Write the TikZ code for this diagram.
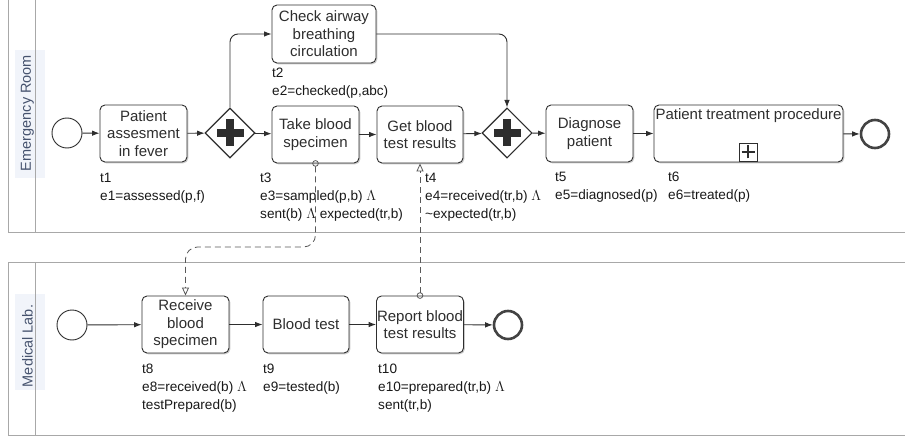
\documentclass[tikz,border=0pt]{standalone}
\usepackage{fontspec}
\setmainfont{Liberation Sans}
\usetikzlibrary{arrows.meta,shapes.geometric,shadows}
\definecolor{ln}{HTML}{2E2E2E}
\definecolor{lanec}{HTML}{A8A8A8}
\definecolor{lanetxt}{HTML}{46536E}
\definecolor{tint}{HTML}{F1F4FA}
\tikzset{
  task/.style={draw=ln, line width=0.9pt, rounded corners=5pt, fill=white,
    align=center, inner sep=0pt, minimum width=87pt, minimum height=57pt,
    font=\fontsize{15}{17.5}\selectfont, text=ln,
    drop shadow={shadow xshift=1.3pt, shadow yshift=-1.3pt, fill=black!45, opacity=0.45}},
  gate/.style={diamond, draw=ln, line width=1.1pt, fill=white, minimum width=50pt,
    minimum height=50pt, inner sep=0pt},
  startev/.style={circle, draw=ln, line width=0.9pt, fill=white, minimum size=30pt, inner sep=0pt},
  endev/.style={circle, draw=ln!90, line width=2.6pt, fill=white, minimum size=28pt, inner sep=0pt},
  flow/.style={draw=ln, line width=0.9pt, -{Latex[length=7.5pt,width=5.5pt]}, rounded corners=8pt},
  msg/.style={draw=black!65, line width=0.8pt, dash pattern=on 6pt off 4pt, rounded corners=12pt,
    {Circle[open,length=6.5pt,width=6.5pt,line width=0.8pt]}-{Triangle[open,length=8pt,width=7pt,line width=0.8pt]}},
  lbl/.style={anchor=north west, inner sep=0pt, align=left, font=\fontsize{13.6}{18}\selectfont, text=black!90},
  lanebox/.style={draw=lanec, line width=0.9pt},
  lanename/.style={rotate=90, font=\fontsize{14.5}{17}\selectfont, text=lanetxt, inner sep=0pt},
}
\newcommand{\gplus}[1]{%
  \fill[ln] ([xshift=-13.5pt,yshift=-4pt]#1.center) rectangle ([xshift=13.5pt,yshift=4pt]#1.center);
  \fill[ln] ([xshift=-4pt,yshift=-13.5pt]#1.center) rectangle ([xshift=4pt,yshift=13.5pt]#1.center);}
\begin{document}
\begin{tikzpicture}[x=1pt,y=-1pt]
\useasboundingbox (0,0) rectangle (905,441);
\clip (0,0) rectangle (905,441);
\fill[white] (0,0) rectangle (905,441);
% lanes
\fill[tint] (15,50) rectangle (45,178);
\fill[tint] (15,294) rectangle (45,390);
\draw[lanebox] (8,-10) rectangle (920,232);
\draw[lanebox] (35,-10) -- (35,232);
\draw[lanebox] (8,262) rectangle (920,435);
\draw[lanebox] (35,262) -- (35,435);
\node[lanename] (erlab) at (27.5,113) {Emergency Room};
\node[lanename] (mllab) at (27.5,346) {Medical Lab.};

% Emergency room nodes
\node[startev] (s1) at (67,133) {};
\node[task] (t1) at (143.5,133.5) {Patient\\assesment\\in fever};
\node[gate] (g1) at (230,133) {};
\node[task, minimum width=104pt, minimum height=58pt] (t2) at (324,34) {Check airway\\breathing\\circulation};
\node[task] (t3) at (315.5,134.5) {Take blood\\specimen};
\node[task, minimum width=86pt] (t4) at (420,134.5) {Get blood\\test results};
\node[gate] (g2) at (507,133) {};
\node[task] (t5) at (589.5,133.5) {Diagnose\\patient};
\node[task, minimum width=189pt] (t6) at (748.5,133.5) {};
\node[anchor=north, inner sep=0pt, font=\fontsize{15}{17.5}\selectfont, text=ln] (t6txt) at ([yshift=-4pt]t6.north) {Patient treatment procedure};
\node[endev] (e1) at (875,134) {};
\gplus{g1}
\gplus{g2}
% sub-process marker
\node[draw=ln, line width=0.9pt, minimum size=18pt, inner sep=0pt] (mk) at (748,152) {};
\draw[ln, line width=1.1pt] ([xshift=-6.5pt]mk.center) -- ([xshift=6.5pt]mk.center);
\draw[ln, line width=1.1pt] ([yshift=-6.5pt]mk.center) -- ([yshift=6.5pt]mk.center);

% Medical lab nodes
\node[startev] (s2) at (72,325) {};
\node[task] (t8) at (185.5,324.5) {Receive\\blood\\specimen};
\node[task, minimum width=86pt] (t9) at (306,324.5) {Blood test};
\node[task] (t10) at (420,324.5) {Report blood\\test results};
\node[endev] (e2) at (508,325) {};

% labels
\node[lbl] (l1) at (100,173) {t1\\e1=assessed(p,f)};
\node[lbl] (l2) at (272,68) {t2\\e2=checked(p,abc)};
\node[lbl] (l3) at (260,173) {t3\\e3=sampled(p,b) $\Lambda$\\sent(b) $\Lambda$ expected(tr,b)};
\node[lbl] (l4) at (425,173) {t4\\e4=received(tr,b) $\Lambda$\\\textasciitilde expected(tr,b)};
\node[lbl] (l5) at (555,172) {t5\\e5=diagnosed(p)};
\node[lbl] (l6) at (668,172) {t6\\e6=treated(p)};
\node[lbl] (l8) at (142,364) {t8\\e8=received(b) $\Lambda$\\testPrepared(b)};
\node[lbl] (l9) at (263,364) {t9\\e9=tested(b)};
\node[lbl] (l10) at (378,364) {t10\\e10=prepared(tr,b) $\Lambda$\\sent(tr,b)};

% sequence flows
\draw[flow] (s1) -- (t1);
\draw[flow] (t1) -- (g1);
\draw[flow] (g1) -- (t3);
\draw[flow] (g1.north) |- (t2.west);
\draw[flow] (t2.east) -| (g2.north);
\draw[flow] (t3) -- (t4);
\draw[flow] (t4) -- (g2);
\draw[flow] (g2) -- (t5);
\draw[flow] (t5) -- (t6);
\draw[flow] (t6) -- (e1);
\draw[flow] (s2) -- (t8);
\draw[flow] (t8) -- (t9);
\draw[flow] (t9) -- (t10);
\draw[flow] (t10) -- (e2);

% message flows
\coordinate (m1) at (250,247);
\draw[msg, shorten <=-3.25pt] (t3.south) |- (m1) -| (t8.north);
\draw[msg, shorten <=-3.25pt] (t10.north) -- (t4.south);
\end{tikzpicture}
\end{document}
